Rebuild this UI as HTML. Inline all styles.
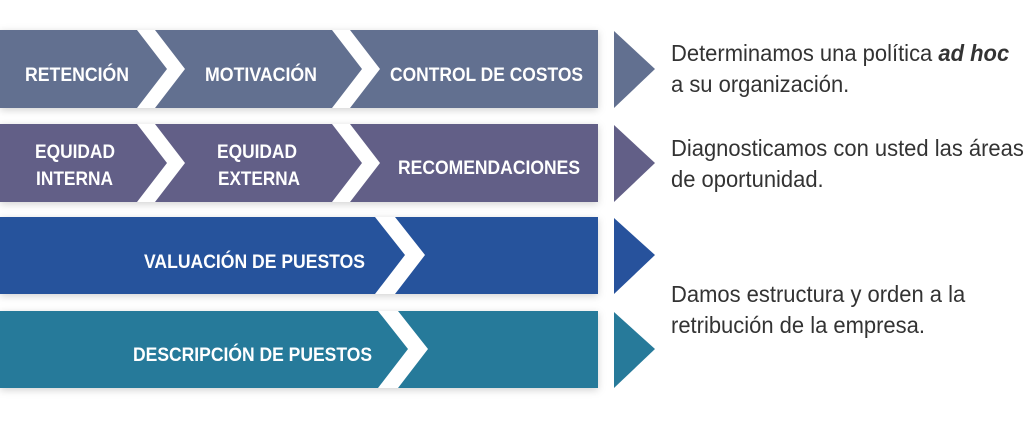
<!DOCTYPE html>
<html><head><meta charset="utf-8"><style>
body{margin:0;width:1024px;height:421px;background:#fff;overflow:hidden;position:relative;font-family:"Liberation Sans",sans-serif}
svg{position:absolute;left:0;top:0}
.t{position:absolute;color:#333;font-size:23px;line-height:31px;left:671px;transform:scaleX(0.955);transform-origin:0 0;white-space:nowrap}
</style></head><body>
<svg width="1024" height="421" viewBox="0 0 1024 421">
<defs><filter id="s" x="-5%" y="-20%" width="110%" height="140%"><feDropShadow dx="0" dy="2" stdDeviation="4" flood-color="#000" flood-opacity="0.18"/></filter></defs>
<g filter="url(#s)">
<rect x="0" y="30" width="598" height="78" fill="#627090"/>
<rect x="0" y="124" width="598" height="78" fill="#625f87"/>
<rect x="0" y="217" width="598" height="77" fill="#27529c"/>
<rect x="0" y="311" width="598" height="77" fill="#277a9a"/>
</g>
<g fill="#fff">
<polygon points="137,30 155,30 185,69 155,108 137,108 167,69"/>
<polygon points="332,30 350,30 380,69 350,108 332,108 362,69"/>
<polygon points="137,124 155,124 185,163 155,202 137,202 167,163"/>
<polygon points="332,124 350,124 380,163 350,202 332,202 362,163"/>
<polygon points="375,217 395,217 425,255 395,294 375,294 405,255"/>
<polygon points="378,311 398,311 428,349 398,388 378,388 408,349"/>
</g>
<polygon points="614,31 655,69 614,108" fill="#627090"/>
<polygon points="614,125 655,163 614,202" fill="#625f87"/>
<polygon points="614,218 655,255 614,294" fill="#27529c"/>
<polygon points="614,312 655,349 614,388" fill="#277a9a"/>
<g fill="#fff" font-family="Liberation Sans, sans-serif" font-weight="bold" font-size="19" lengthAdjust="spacingAndGlyphs">
<text x="25" y="81" textLength="104" lengthAdjust="spacingAndGlyphs">RETENCIÓN</text>
<text x="205" y="81" textLength="112" lengthAdjust="spacingAndGlyphs">MOTIVACIÓN</text>
<text x="390" y="81" textLength="193" lengthAdjust="spacingAndGlyphs">CONTROL DE COSTOS</text>
<text x="35" y="158" textLength="80" lengthAdjust="spacingAndGlyphs">EQUIDAD</text>
<text x="36" y="185" textLength="77" lengthAdjust="spacingAndGlyphs">INTERNA</text>
<text x="217" y="158" textLength="80" lengthAdjust="spacingAndGlyphs">EQUIDAD</text>
<text x="218" y="185" textLength="82" lengthAdjust="spacingAndGlyphs">EXTERNA</text>
<text x="398" y="174" textLength="182" lengthAdjust="spacingAndGlyphs">RECOMENDACIONES</text>
<text x="144" y="268" textLength="221" lengthAdjust="spacingAndGlyphs">VALUACIÓN DE PUESTOS</text>
<text x="133" y="361" textLength="239" lengthAdjust="spacingAndGlyphs">DESCRIPCIÓN DE PUESTOS</text>
</g>
</svg>
<div class="t" style="top:38px">Determinamos una política <b><i>ad hoc</i></b><br>a su organización.</div>
<div class="t" style="top:133px">Diagnosticamos con usted las áreas<br>de oportunidad.</div>
<div class="t" style="top:279px">Damos estructura y orden a la<br>retribución de la empresa.</div>
</body></html>
